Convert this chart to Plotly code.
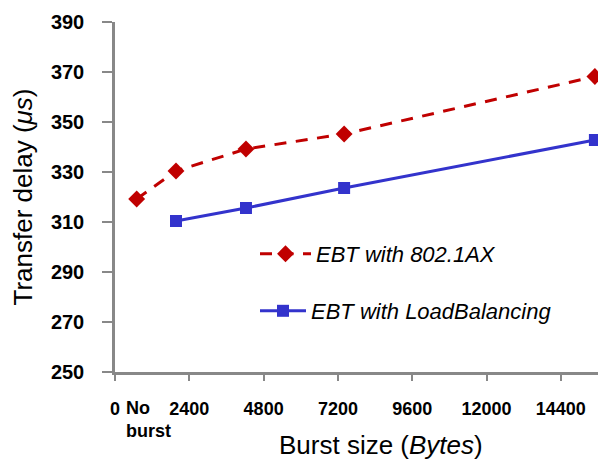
import plotly.graph_objects as go

burst_sizes = [700, 1970, 4230, 7400, 15500]
delay_802_1ax = [319.2, 330.4, 339.2, 345.2, 368.2]
lb_sizes = [1970, 4230, 7400, 15500]
delay_loadbal = [310.4, 315.6, 323.6, 342.8]
x_tickvals = [0, 2400, 4800, 7200, 9600, 12000, 14400]
x_ticktext = ["0", "2400", "4800", "7200", "9600", "12000", "14400"]
y_tickvals = [250, 270, 290, 310, 330, 350, 370, 390]

FONT = "Liberation Sans, Arial, sans-serif"
RED = "#C00000"
BLUE = "#3333CC"
AXIS = "#888888"

fig = go.Figure()
fig.add_trace(go.Scatter(
    x=burst_sizes, y=delay_802_1ax, mode="lines+markers",
    name="<i>EBT with 802.1AX</i>",
    line=dict(color=RED, width=3, dash="12px,9.5px"),
    marker=dict(symbol="diamond", size=13, color=RED),
    legend="legend", showlegend=True,
))
fig.add_trace(go.Scatter(
    x=lb_sizes, y=delay_loadbal, mode="lines+markers",
    name="<i>EBT with LoadBalancing</i>",
    line=dict(color=BLUE, width=3),
    marker=dict(symbol="square", size=12, color=BLUE),
    legend="legend2", showlegend=True,
))

plot_w = 598 - 115
plot_h = 462 - 22 - 90

fig.update_layout(
    width=598, height=462,
    margin=dict(l=115, r=0, t=22, b=90, autoexpand=False),
    paper_bgcolor="white", plot_bgcolor="white",
    font=dict(family=FONT, color="black"),
    showlegend=True,
    legend=dict(x=(255 - 115) / plot_w, y=(372 - 254) / plot_h, xanchor="left", yanchor="middle",
                bgcolor="rgba(0,0,0,0)", font=dict(size=22, family=FONT),
                itemwidth=51, visible=True),
    legend2=dict(x=(255 - 115) / plot_w, y=(372 - 311) / plot_h, xanchor="left", yanchor="middle",
                 bgcolor="rgba(0,0,0,0)", font=dict(size=22, family=FONT),
                 itemwidth=46, visible=True),
    xaxis=dict(
        range=[0, 15600], tickvals=x_tickvals, ticktext=x_ticktext,
        showgrid=False, zeroline=False, showline=True, linecolor=AXIS,
        linewidth=2.5, ticks="outside", ticklen=6, tickcolor=AXIS, tickwidth=2,
        tickfont=dict(size=18, family=FONT, weight="bold"),
        ticklabelstandoff=13,
    ),
    yaxis=dict(
        range=[250, 390], tickvals=y_tickvals,
        showgrid=False, zeroline=False, showline=True, linecolor=AXIS,
        linewidth=2.5, ticks="outside", ticklen=10, tickcolor=AXIS, tickwidth=2,
        tickfont=dict(size=20, family=FONT, weight="bold"),
        ticklabelstandoff=14,
        title=dict(text="Transfer delay (<i>μs</i>)", font=dict(size=26, family=FONT),
                   standoff=11),
    ),
    annotations=[
        dict(text="No<br>burst", x=(124 - 115) / plot_w, y=-(396 - 372) / plot_h,
             xref="paper", yref="paper",
             showarrow=False, font=dict(size=18, family=FONT, weight="bold"),
             align="left", xanchor="left", yanchor="top"),
        dict(text="Burst size (<i>Bytes</i>)", x=(381 - 115) / plot_w, y=-(445 - 372) / plot_h,
             xref="paper", yref="paper",
             showarrow=False, font=dict(size=26, family=FONT),
             xanchor="center", yanchor="middle"),
    ],
)

fig.write_html("out.html", config={"displayModeBar": False},
               post_script="document.body.style.margin='0';document.body.style.overflow='hidden';")
